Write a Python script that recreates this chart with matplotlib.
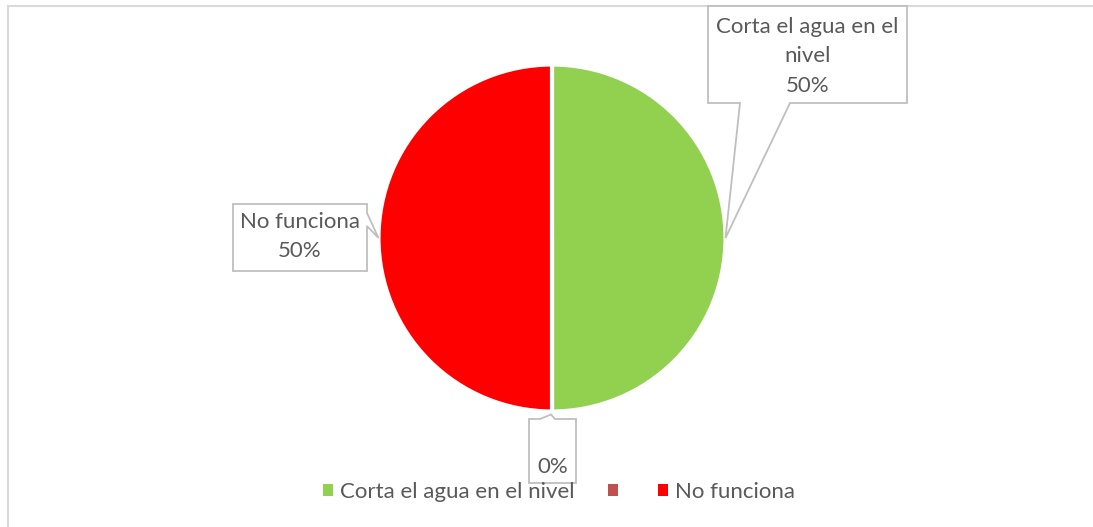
import numpy as np
import matplotlib
matplotlib.use("Agg")
import matplotlib.pyplot as plt
from matplotlib.patches import Polygon

plt.rcParams['font.family'] = ['Lato', 'DejaVu Sans']

categories = ["Corta el agua en el nivel", "", "No funciona"]
values = [50, 0, 50]
colors = ["#92D050", "#C0504D", "#FF0000"]
label_texts = ["Corta el agua en el\nnivel\n50%", "0%", "No funciona\n50%"]

W, H = 1093, 527
fig = plt.figure(figsize=(W / 100, H / 100), dpi=100)
ax = fig.add_axes([0, 0, 1, 1])

def py(y):
    return H - y

cx, cy, r = 552, py(238), 173.5
wedges, _ = ax.pie(values, colors=colors, startangle=90, counterclock=False,
                   center=(cx, cy), radius=r, frame=True,
                   wedgeprops=dict(edgecolor='white', linewidth=3))
ax.set_xlim(0, W)
ax.set_ylim(0, H)
ax.set_aspect('auto')
ax.axis('off')

# chart border
ax.plot([8, 8], [0, py(6)], color='#D9D9D9', lw=1.5)
ax.plot([8, W], [py(6), py(6)], color='#D9D9D9', lw=1.5)

def tip_of(w):
    th = np.deg2rad((w.theta1 + w.theta2) / 2)
    return (cx + r * np.cos(th), cy + r * np.sin(th))

txt_color = '#595959'
box_ec = '#BFBFBF'
fs = 16

# callout 1 (green) - box with pointer on bottom edge
tx, ty = tip_of(wedges[0])
x0, x1, y0, y1 = 708, 907, py(103), py(6)
poly = [(x0, y1), (x1, y1), (x1, y0), (790, y0), (tx, ty), (740, y0), (x0, y0)]
ax.add_patch(Polygon(poly, closed=True, fc='white', ec=box_ec, lw=1.3, zorder=5))
ax.text((x0 + x1) / 2, (y0 + y1) / 2 - 2, label_texts[0], ha='center', va='center',
        fontsize=fs, color=txt_color, linespacing=1.6, zorder=6)

# callout 3 (red) - pointer on right edge
tx, ty = tip_of(wedges[2])
x0, x1, y0, y1 = 233, 367, py(271), py(204)
poly = [(x0, y1), (x1, y1), (x1, py(213)), (tx, ty), (x1, py(226)), (x1, y0), (x0, y0)]
ax.add_patch(Polygon(poly, closed=True, fc='white', ec=box_ec, lw=1.3, zorder=5))
ax.text((x0 + x1) / 2, (y0 + y1) / 2 + 1, label_texts[2], ha='center', va='center',
        fontsize=fs, color=txt_color, linespacing=1.6, zorder=6)

# callout 2 (zero slice) - pointer on top edge
tx, ty = tip_of(wedges[1])
x0, x1, y0, y1 = 529, 576, py(483), py(419)
poly = [(x0, y1), (540, y1), (tx - 1, ty - 3), (555, y1), (x1, y1), (x1, y0), (x0, y0)]
ax.add_patch(Polygon(poly, closed=True, fc='white', ec=box_ec, lw=1.3, zorder=5))
ax.text((x0 + x1) / 2, py(467), label_texts[1], ha='center', va='center',
        fontsize=fs, color=txt_color, zorder=6)

leg = ax.legend(wedges, categories, loc='center', bbox_to_anchor=(559 / W, py(492) / H),
                bbox_transform=fig.transFigure, ncol=3, frameon=False,
                fontsize=fs, handlelength=0.45, handleheight=0.45, handletextpad=0.3,
                columnspacing=1.5, borderpad=0)
for t in leg.get_texts():
    t.set_color(txt_color)
for h in leg.legend_handles:
    h.set_edgecolor('none')
leg.set_zorder(7)

fig.savefig("out.png", dpi=100, facecolor='white')
